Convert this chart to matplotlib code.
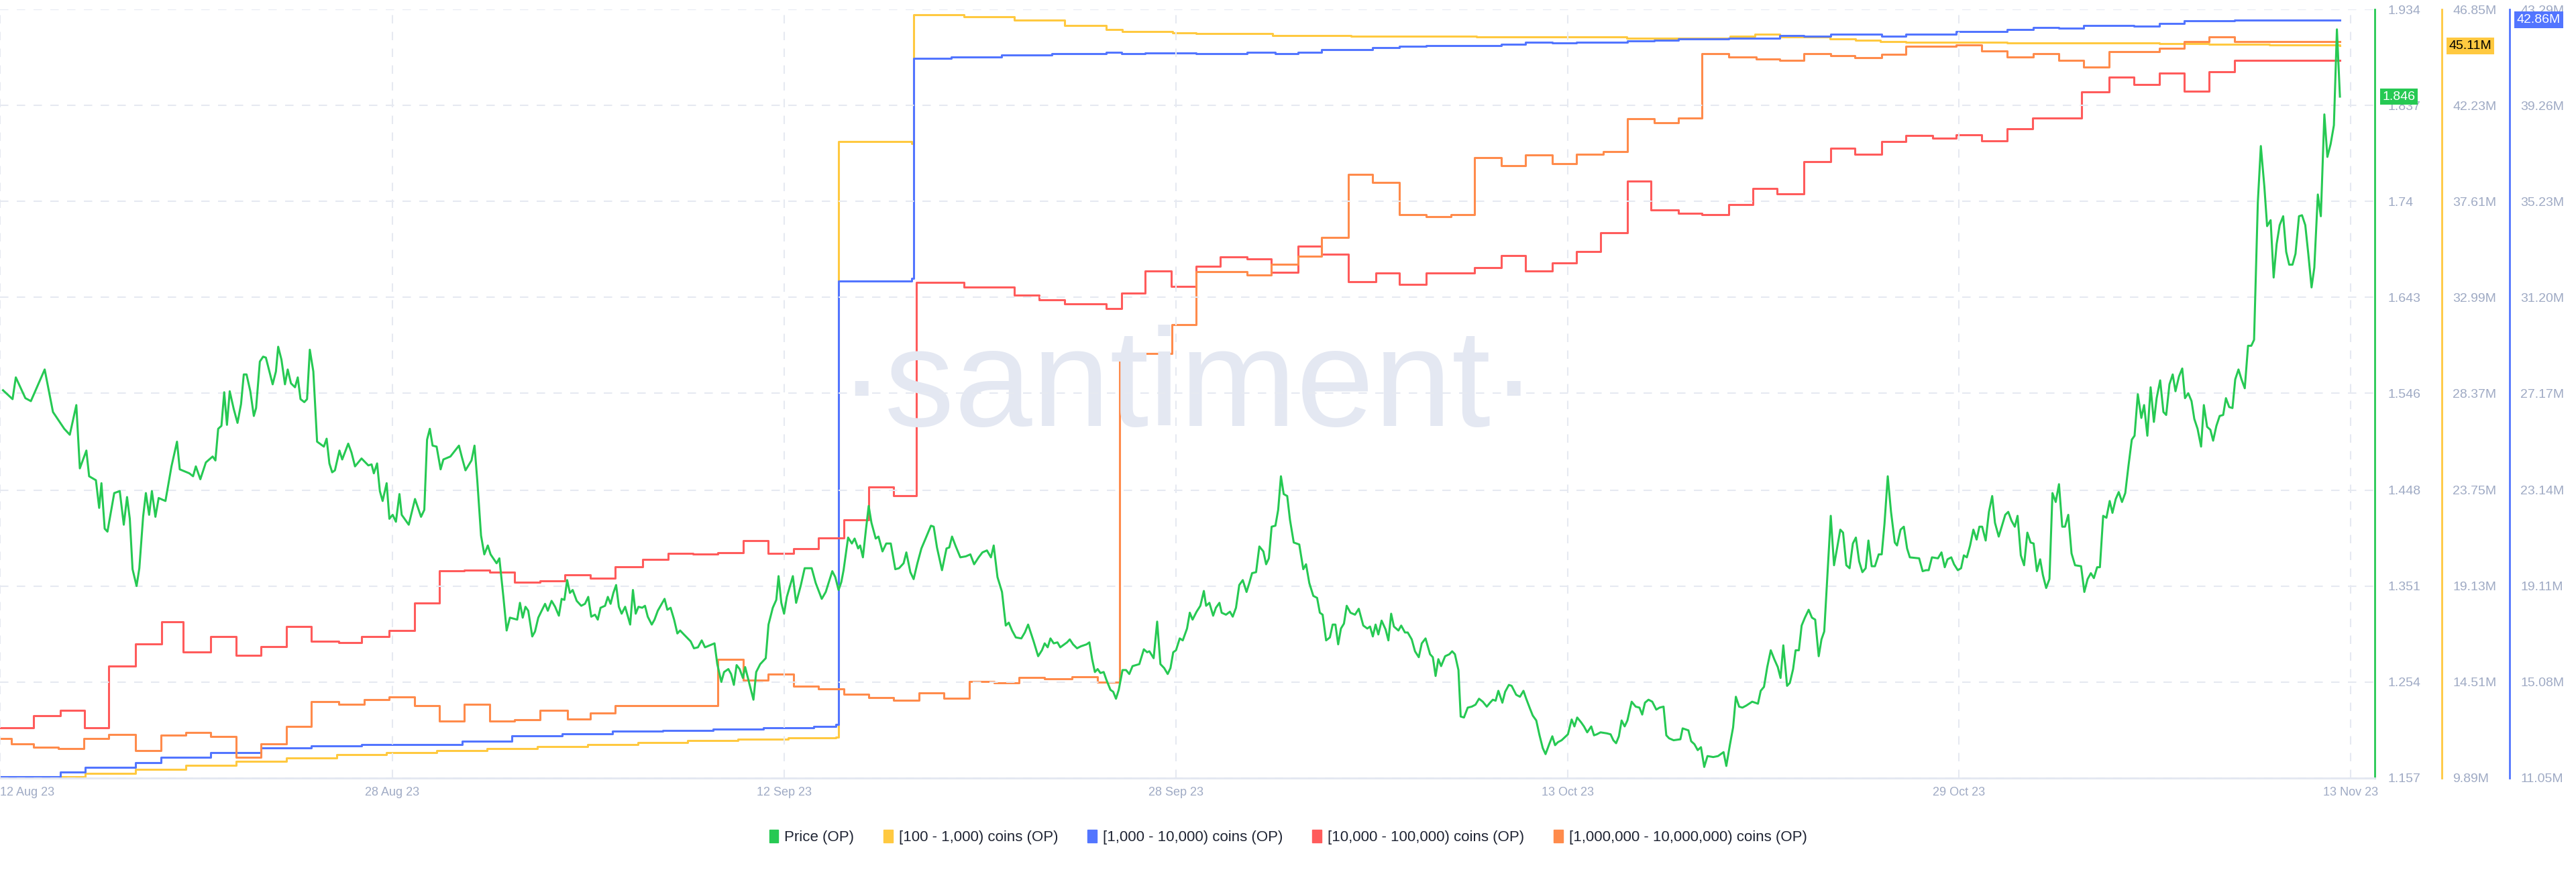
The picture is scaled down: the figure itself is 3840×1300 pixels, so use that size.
import matplotlib
matplotlib.use("Agg")
import matplotlib.pyplot as plt
import datetime as dt
from matplotlib.patches import Patch

plt.rcParams['font.family'] = ['Liberation Sans', 'DejaVu Sans']

START = dt.datetime(2023, 8, 12)
def D(days):
    return [START + dt.timedelta(days=float(d)) for d in days]

# Price (OP): (days since 12 Aug 23, value)
price_pts = [
(-1.28,1.549),(-0.90,1.540),(-0.77,1.562),(-0.39,1.541),(-0.17,1.538),(0.38,1.570),(0.71,1.527),(1.16,1.510),(1.38,1.504),(1.64,1.534),
(1.78,1.470),(2.04,1.488),(2.15,1.462),(2.42,1.458),(2.55,1.430),(2.64,1.455),(2.77,1.409),(2.88,1.406),(3.15,1.445),(3.37,1.447),
(3.53,1.413),(3.66,1.441),(3.77,1.419),(3.88,1.368),(4.04,1.351),(4.15,1.369),(4.30,1.421),(4.41,1.445),(4.54,1.423),(4.65,1.447),
(4.79,1.421),(4.92,1.440),(5.19,1.437),(5.43,1.472),(5.65,1.497),(5.76,1.469),(6.14,1.465),(6.29,1.462),(6.40,1.472),(6.58,1.459),
(6.80,1.476),(7.07,1.482),(7.18,1.478),(7.29,1.510),(7.42,1.513),(7.53,1.547),(7.64,1.514),(7.75,1.548),(7.91,1.530),(8.06,1.516),
(8.20,1.535),(8.31,1.565),(8.42,1.565),(8.57,1.548),(8.71,1.523),(8.80,1.531),(8.95,1.578),(9.08,1.583),(9.19,1.582),(9.35,1.566),
(9.46,1.555),(9.59,1.568),(9.68,1.593),(9.81,1.580),(9.95,1.555),(10.06,1.570),(10.19,1.556),(10.35,1.552),(10.46,1.562),(10.57,1.540),
(10.72,1.537),(10.83,1.540),(10.94,1.590),(11.08,1.568),(11.23,1.497),(11.50,1.492),(11.61,1.500),(11.72,1.475),(11.83,1.466),(11.94,1.468),
(12.12,1.488),(12.23,1.479),(12.47,1.495),(12.60,1.486),(12.74,1.472),(13.00,1.480),(13.27,1.473),(13.40,1.474),(13.49,1.465),(13.62,1.475),
(13.73,1.447),(13.84,1.437),(14.00,1.455),(14.11,1.419),(14.24,1.423),(14.37,1.416),(14.51,1.444),(14.60,1.423),(14.88,1.413),(15.13,1.439),
(15.37,1.421),(15.50,1.428),(15.61,1.499),(15.72,1.510),(15.83,1.493),(15.99,1.492),(16.15,1.469),(16.26,1.479),(16.54,1.482),(16.88,1.493),
(16.99,1.482),(17.14,1.468),(17.38,1.478),(17.50,1.493),(17.61,1.458),(17.76,1.402),(17.89,1.383),(18.03,1.392),(18.14,1.383),(18.38,1.374),
(18.49,1.379),(18.65,1.340),(18.78,1.306),(18.91,1.319),(19.20,1.317),(19.31,1.334),(19.42,1.319),(19.53,1.330),(19.64,1.326),(19.80,1.300),
(19.91,1.305),(20.04,1.319),(20.31,1.333),(20.42,1.326),(20.57,1.336),(20.71,1.330),(20.86,1.321),(20.97,1.338),(21.08,1.337),(21.19,1.357),
(21.30,1.344),(21.41,1.347),(21.57,1.336),(21.75,1.331),(21.90,1.333),(22.03,1.340),(22.15,1.320),(22.30,1.322),(22.41,1.317),(22.52,1.329),
(22.70,1.331),(22.81,1.340),(22.92,1.333),(23.03,1.344),(23.14,1.352),(23.25,1.330),(23.36,1.323),(23.50,1.330),(23.70,1.312),(23.81,1.347),
(23.92,1.323),(24.03,1.330),(24.18,1.329),(24.29,1.331),(24.40,1.320),(24.56,1.312),(24.67,1.317),(24.80,1.326),(25.07,1.338),(25.18,1.327),
(25.31,1.329),(25.45,1.317),(25.58,1.303),(25.69,1.306),(25.84,1.302),(26.11,1.295),(26.24,1.288),(26.40,1.289),(26.55,1.296),(26.68,1.289),
(27.06,1.293),(27.17,1.272),(27.33,1.254),(27.44,1.264),(27.61,1.267),(27.72,1.262),(27.83,1.251),(27.94,1.271),(28.06,1.267),(28.19,1.258),
(28.28,1.269),(28.43,1.254),(28.61,1.236),(28.72,1.264),(28.88,1.272),(29.10,1.278),(29.21,1.312),(29.38,1.329),(29.52,1.337),(29.61,1.361),
(29.72,1.334),(29.83,1.323),(29.94,1.340),(30.18,1.361),(30.31,1.334),(30.49,1.351),(30.65,1.369),(30.93,1.369),(31.09,1.354),(31.33,1.338),
(31.49,1.345),(31.75,1.366),(31.87,1.360),(32.00,1.347),(32.11,1.355),(32.20,1.367),(32.38,1.400),(32.53,1.394),(32.64,1.399),(32.78,1.389),
(32.86,1.392),(32.97,1.380),(33.09,1.408),(33.20,1.432),(33.31,1.415),(33.48,1.399),(33.59,1.401),(33.75,1.386),(33.90,1.394),(34.08,1.394),
(34.26,1.368),(34.41,1.369),(34.59,1.374),(34.70,1.385),(34.86,1.365),(34.99,1.358),(35.14,1.374),(35.30,1.389),(35.45,1.398),(35.68,1.412),
(35.79,1.411),(35.92,1.390),(36.12,1.367),(36.30,1.389),(36.41,1.390),(36.52,1.401),(36.67,1.391),(36.85,1.380),(37.07,1.381),(37.25,1.383),
(37.40,1.373),(37.58,1.380),(37.73,1.385),(37.91,1.387),(38.07,1.380),(38.18,1.392),(38.33,1.360),(38.51,1.345),(38.66,1.311),(38.78,1.314),
(38.91,1.306),(39.06,1.299),(39.28,1.298),(39.42,1.304),(39.55,1.312),(39.68,1.302),(39.77,1.295),(39.95,1.280),(40.10,1.286),(40.21,1.293),
(40.33,1.289),(40.44,1.298),(40.57,1.293),(40.72,1.294),(40.83,1.289),(41.10,1.294),(41.21,1.297),(41.34,1.292),(41.50,1.288),(41.65,1.290),
(41.88,1.292),(41.99,1.294),(42.10,1.277),(42.21,1.264),(42.32,1.267),(42.43,1.263),(42.56,1.264),(42.67,1.256),(42.83,1.246),(42.94,1.244),
(43.05,1.237),(43.16,1.246),(43.31,1.266),(43.45,1.266),(43.58,1.262),(43.71,1.270),(43.98,1.272),(44.16,1.287),(44.29,1.284),(44.38,1.285),
(44.55,1.278),(44.69,1.315),(44.82,1.272),(44.97,1.268),(45.11,1.262),(45.22,1.268),(45.33,1.284),(45.44,1.286),(45.59,1.298),(45.71,1.296),
(45.88,1.308),(45.99,1.324),(46.10,1.317),(46.26,1.325),(46.41,1.331),(46.55,1.346),(46.64,1.331),(46.77,1.334),(46.92,1.321),(47.03,1.329),
(47.17,1.334),(47.26,1.324),(47.43,1.322),(47.59,1.325),(47.70,1.320),(47.83,1.329),(47.96,1.352),(48.10,1.357),(48.25,1.345),(48.36,1.354),
(48.47,1.364),(48.63,1.365),(48.76,1.391),(48.92,1.386),(49.03,1.373),(49.14,1.379),(49.25,1.411),(49.40,1.412),(49.51,1.428),(49.62,1.462),
(49.73,1.444),(49.87,1.442),(49.98,1.418),(50.13,1.395),(50.35,1.393),(50.51,1.368),(50.62,1.373),(50.75,1.354),(50.91,1.341),(51.06,1.339),
(51.17,1.324),(51.28,1.322),(51.42,1.296),(51.57,1.299),(51.68,1.312),(51.79,1.312),(51.90,1.292),(52.01,1.308),(52.13,1.313),(52.24,1.331),
(52.39,1.324),(52.57,1.322),(52.72,1.328),(52.90,1.311),(53.06,1.308),(53.17,1.310),(53.28,1.300),(53.39,1.312),(53.50,1.302),(53.63,1.316),
(53.79,1.307),(53.90,1.296),(54.01,1.323),(54.12,1.310),(54.30,1.306),(54.41,1.311),(54.56,1.304),(54.67,1.304),(54.83,1.297),(54.96,1.285),
(55.11,1.279),(55.23,1.293),(55.38,1.298),(55.56,1.282),(55.67,1.279),(55.78,1.260),(55.89,1.277),(56.00,1.270),(56.16,1.280),(56.33,1.282),
(56.44,1.285),(56.55,1.282),(56.69,1.266),(56.78,1.219),(56.91,1.218),(57.06,1.228),(57.22,1.229),(57.37,1.231),(57.51,1.237),(57.66,1.234),
(57.82,1.229),(57.95,1.233),(58.06,1.236),(58.17,1.235),(58.28,1.245),(58.44,1.233),(58.55,1.244),(58.70,1.251),(58.81,1.250),(58.99,1.241),
(59.14,1.239),(59.28,1.245),(59.39,1.237),(59.54,1.227),(59.65,1.220),(59.79,1.215),(59.92,1.200),(60.05,1.187),(60.16,1.181),(60.32,1.192),
(60.43,1.199),(60.54,1.190),(60.65,1.193),(60.80,1.195),(61.05,1.201),(61.20,1.216),(61.31,1.209),(61.42,1.218),(61.58,1.213),(61.69,1.209),
(61.82,1.203),(61.98,1.209),(62.09,1.200),(62.20,1.201),(62.35,1.203),(62.60,1.202),(62.75,1.201),(62.86,1.195),(62.97,1.192),(63.08,1.199),
(63.19,1.215),(63.31,1.209),(63.42,1.215),(63.59,1.234),(63.75,1.229),(63.90,1.228),(64.01,1.221),(64.12,1.233),(64.26,1.236),(64.41,1.234),
(64.57,1.226),(64.70,1.228),(64.86,1.229),(64.97,1.200),(65.08,1.197),(65.26,1.195),(65.53,1.196),(65.62,1.207),(65.85,1.205),(65.96,1.194),
(66.09,1.191),(66.22,1.185),(66.35,1.188),(66.48,1.168),(66.61,1.179),(66.84,1.178),(67.03,1.179),(67.25,1.183),(67.36,1.169),(67.50,1.190),
(67.63,1.208),(67.74,1.239),(67.87,1.229),(68.00,1.228),(68.15,1.230),(68.39,1.234),(68.62,1.232),(68.73,1.245),(68.86,1.249),(68.99,1.269),
(69.13,1.286),(69.27,1.277),(69.41,1.269),(69.52,1.258),(69.63,1.291),(69.78,1.250),(69.89,1.253),(70.02,1.267),(70.12,1.286),(70.25,1.286),
(70.36,1.311),(70.49,1.319),(70.64,1.327),(70.77,1.319),(70.90,1.317),(71.04,1.280),(71.15,1.297),(71.26,1.305),(71.37,1.355),(71.52,1.422),
(71.65,1.372),(71.77,1.389),(71.90,1.408),(72.01,1.405),(72.14,1.372),(72.27,1.369),(72.40,1.394),(72.52,1.400),(72.65,1.376),(72.78,1.365),
(72.91,1.369),(73.02,1.397),(73.15,1.371),(73.28,1.371),(73.43,1.383),(73.55,1.383),(73.66,1.414),(73.79,1.462),(73.92,1.426),(74.07,1.395),
(74.16,1.392),(74.30,1.408),(74.43,1.411),(74.56,1.389),(74.67,1.380),(75.04,1.379),(75.18,1.366),(75.31,1.367),(75.42,1.367),(75.55,1.380),
(75.79,1.379),(75.93,1.385),(76.06,1.370),(76.17,1.378),(76.32,1.380),(76.43,1.373),(76.58,1.367),(76.71,1.369),(76.82,1.382),(76.94,1.380),
(77.07,1.392),(77.20,1.408),(77.33,1.398),(77.44,1.411),(77.55,1.411),(77.69,1.397),(77.82,1.426),(77.95,1.442),(78.06,1.415),(78.21,1.401),
(78.34,1.412),(78.47,1.423),(78.59,1.426),(78.72,1.417),(78.85,1.411),(78.96,1.422),(79.09,1.382),(79.22,1.372),(79.35,1.405),(79.48,1.395),
(79.60,1.394),(79.73,1.366),(79.86,1.378),(79.97,1.362),(80.10,1.349),(80.23,1.358),(80.35,1.445),(80.48,1.436),(80.61,1.454),(80.74,1.411),
(80.85,1.411),(80.98,1.423),(81.11,1.384),(81.25,1.372),(81.49,1.371),(81.62,1.345),(81.75,1.358),(81.88,1.364),(82.00,1.359),(82.13,1.370),
(82.24,1.370),(82.37,1.422),(82.50,1.420),(82.63,1.437),(82.74,1.425),(82.87,1.439),(82.99,1.446),(83.12,1.436),(83.25,1.445),(83.38,1.473),
(83.51,1.499),(83.62,1.503),(83.75,1.545),(83.89,1.521),(84.00,1.534),(84.13,1.503),(84.26,1.552),(84.39,1.517),(84.50,1.541),(84.64,1.559),
(84.77,1.527),(84.88,1.524),(85.01,1.555),(85.14,1.565),(85.25,1.548),(85.39,1.563),(85.52,1.571),(85.63,1.541),(85.76,1.546),(85.89,1.538),
(86.00,1.520),(86.13,1.510),(86.27,1.492),(86.38,1.534),(86.51,1.512),(86.64,1.509),(86.75,1.498),(86.88,1.513),(87.01,1.523),(87.15,1.524),
(87.26,1.541),(87.39,1.532),(87.52,1.531),(87.63,1.560),(87.76,1.570),(87.88,1.560),(88.01,1.551),(88.14,1.594),(88.27,1.594),(88.38,1.600),
(88.53,1.739),(88.65,1.796),(88.79,1.755),(88.90,1.715),(89.04,1.721),(89.16,1.663),(89.28,1.697),(89.40,1.716),(89.54,1.725),(89.66,1.689),
(89.78,1.676),(89.91,1.676),(90.03,1.687),(90.17,1.725),(90.29,1.726),(90.42,1.716),(90.54,1.687),(90.67,1.653),(90.78,1.673),(90.92,1.747),
(91.04,1.725),(91.18,1.828),(91.30,1.785),(91.43,1.798),(91.56,1.817),(91.68,1.914),(91.80,1.846)]
price_days = [p[0] for p in price_pts]
price_vals = [p[1] for p in price_pts]

# [100 - 1,000) coins (OP) -- millions, yellow axis
yel_days = [-1.4,2,4,6,8,10,12,14,16,18,20,22,24,26,28,30,31.9,32.0,34.9,35.0,37,39,41,42.67,43.3,45.3,46.25,49.3,52.4,57.4,63.4,67.5,68.5,69.5,71.5,72.5,73.5,74.5,78.55,80.6,83.5,84.6,86.6,89,91.8]
yel_vals = [9.95,10.1,10.3,10.5,10.7,10.85,11.0,11.1,11.2,11.3,11.4,11.5,11.6,11.7,11.75,11.8,11.85,40.5,40.4,46.6,46.5,46.35,46.1,45.88,45.80,45.73,45.69,45.61,45.56,45.53,45.47,45.58,45.67,45.53,45.45,45.39,45.31,45.28,45.26,45.25,45.24,45.22,45.18,45.14,45.11]

# [1,000 - 10,000) coins (OP) -- millions, blue axis
blu_days = [-1.4,1,2,4,5,7,9,11,13,15,17,19,21,23,25,27,29,31,31.9,32.0,34.9,35.0,36.5,38.5,40.5,42.67,43.27,44.22,46.25,48.27,49.4,50.3,51.25,53.28,54.35,55.4,57.33,58.4,59.36,60.43,61.38,63.41,64.48,65.44,67.46,69.49,70.44,71.52,72.47,73.54,74.5,76.52,78.55,79.6,80.6,81.6,83.6,84.6,85.6,87.6,91.8]
blu_vals = [11.1,11.3,11.5,11.7,11.9,12.1,12.3,12.4,12.45,12.45,12.6,12.8,12.9,13.0,13.05,13.1,13.15,13.2,13.3,31.9,32.0,41.25,41.3,41.38,41.45,41.50,41.43,41.47,41.43,41.49,41.43,41.50,41.60,41.69,41.74,41.79,41.77,41.83,41.92,41.89,41.93,41.97,42.01,42.07,42.10,42.21,42.18,42.25,42.27,42.18,42.25,42.36,42.44,42.53,42.51,42.61,42.59,42.70,42.81,42.86,42.86]

# [10,000 - 100,000) coins (OP) -- millions (hidden axis)
red_days = [-1.4,-0.06,1.0,1.96,2.93,4.0,5.03,5.9,7.0,8.0,9.0,10.0,11.0,12.1,13.0,14.1,15.1,16.1,17.1,18.1,19.1,20.1,21.1,22.1,23.1,24.2,25.2,26.2,27.2,28.2,29.2,30.2,31.2,32.2,33.2,34.2,35.1,37,39,40,41,42.67,43.27,44.22,45.24,46.25,47.2,48.27,49.23,50.3,51.25,52.3,53.4,54.35,55.4,57.33,58.4,59.36,60.43,61.38,62.34,63.41,64.36,65.44,66.39,67.46,68.42,69.37,70.44,71.52,72.47,73.54,74.5,75.57,76.52,77.52,78.55,79.57,81.5,82.6,83.6,84.6,85.6,86.6,87.6,91.8]
red_vals = [7.409,7.436,7.449,7.409,7.554,7.606,7.659,7.588,7.624,7.579,7.600,7.648,7.612,7.610,7.624,7.638,7.703,7.779,7.781,7.776,7.752,7.756,7.769,7.762,7.789,7.806,7.820,7.818,7.822,7.850,7.821,7.832,7.856,7.899,7.977,7.957,8.461,8.45,8.43,8.42,8.41,8.398,8.435,8.487,8.451,8.498,8.520,8.516,8.485,8.546,8.527,8.462,8.483,8.455,8.483,8.496,8.524,8.487,8.507,8.533,8.577,8.699,8.632,8.624,8.621,8.645,8.683,8.669,8.746,8.777,8.763,8.793,8.807,8.801,8.809,8.795,8.823,8.849,8.910,8.945,8.928,8.955,8.912,8.958,8.985,8.985]

# [1,000,000 - 10,000,000) coins (OP) -- millions (hidden axis)
org_days = [-1.4,-0.95,-0.06,0.93,1.93,2.93,4.0,5.0,6.0,7.0,8.0,9.0,10.0,11.0,12.1,13.1,14.1,15.1,16.1,17.1,18.1,19.1,20.1,21.2,22.1,23.1,27.2,28.2,29.2,30.2,31.2,32.2,33.2,34.2,35.2,36.2,37.2,38.2,39.2,40.2,41.3,42.3,43.2,45.29,46.25,48.27,49.23,50.3,51.25,52.3,53.28,54.35,55.4,56.4,57.33,58.4,59.36,60.43,61.38,62.46,63.41,64.48,65.44,66.39,67.46,68.54,69.49,70.44,71.52,72.47,73.54,74.5,76.52,77.52,78.55,79.6,80.6,81.6,82.6,84.6,85.6,86.6,87.6,91.8]
org_vals = [0.615,0.60,0.59,0.585,0.615,0.627,0.58,0.625,0.633,0.621,0.56,0.60,0.651,0.723,0.715,0.729,0.737,0.712,0.666,0.715,0.666,0.670,0.698,0.673,0.689,0.712,0.847,0.787,0.804,0.768,0.760,0.744,0.734,0.727,0.749,0.733,0.783,0.778,0.793,0.790,0.795,0.780,1.743,1.827,1.982,1.973,2.005,2.027,2.082,2.268,2.244,2.149,2.144,2.150,2.316,2.293,2.324,2.298,2.326,2.334,2.430,2.419,2.432,2.621,2.612,2.606,2.602,2.620,2.615,2.610,2.618,2.643,2.646,2.629,2.612,2.620,2.602,2.581,2.626,2.636,2.657,2.671,2.657,2.657]

date_ticks = [-1.39,14.23,29.83,45.45,61.04,76.63,92.23]
date_labels = ['12 Aug 23','28 Aug 23','12 Sep 23','28 Sep 23','13 Oct 23','29 Oct 23','13 Nov 23']
price_ticks = [1.157,1.254,1.351,1.448,1.546,1.643,1.74,1.837,1.934]
yel_ticks = [9.89,14.51,19.13,23.75,28.37,32.99,37.61,42.23,46.85]
blu_ticks = [11.05,15.08,19.11,23.14,27.17,31.2,35.23,39.26,43.29]

GREEN, YEL, BLUE, RED, ORG = '#26c953', '#ffc940', '#5275ff', '#ff5b5b', '#ff8b4b'
TICKC = '#9faac4'

def pair(d, v):
    n = min(len(d), len(v))
    return D(d[:n]), v[:n]

fig = plt.figure(figsize=(38.4, 13), dpi=100)
ax = fig.add_axes([0.0, 0.108, 0.922, 0.881])
ax_y = ax.twinx(); ax_b = ax.twinx(); ax_r = ax.twinx(); ax_o = ax.twinx()

xmin = START + dt.timedelta(days=-1.4)
xmax = START + dt.timedelta(days=93.2)

ax_o.plot(*pair(org_days, org_vals), color=ORG, lw=2.2, drawstyle='steps-post')
ax_o.set_ylim(0.5, 2.75)
ax_r.plot(*pair(red_days, red_vals), color=RED, lw=2.2, drawstyle='steps-post')
ax_r.set_ylim(7.29, 9.105)
ax_b.plot(*pair(blu_days, blu_vals), color=BLUE, lw=2.2, drawstyle='steps-post')
ax_b.set_ylim(11.05, 43.29)
ax_y.plot(*pair(yel_days, yel_vals), color=YEL, lw=2.2, drawstyle='steps-post')
ax_y.set_ylim(9.89, 46.85)
ax.plot(D(price_days), price_vals, color=GREEN, lw=2.2, zorder=10)
ax.set_ylim(1.157, 1.934)
ax.set_zorder(5); ax.patch.set_visible(False)

for a in (ax, ax_y, ax_b, ax_r, ax_o):
    a.set_xlim(xmin, xmax)
    for s in a.spines.values():
        s.set_visible(False)

for a in (ax_r, ax_o):
    a.set_yticks([])

ax.yaxis.tick_right()
ax.spines['right'].set_visible(True); ax.spines['right'].set_color(GREEN); ax.spines['right'].set_linewidth(2)
ax.spines['bottom'].set_visible(True); ax.spines['bottom'].set_color('#e3e7f1'); ax.spines['bottom'].set_linewidth(2)
ax.set_yticks(price_ticks)
ax.set_yticklabels([f'{t:g}' for t in price_ticks])
ax.tick_params(axis='y', length=0, pad=14, labelsize=14, labelcolor=TICKC)

ax_y.spines['right'].set_visible(True); ax_y.spines['right'].set_position(('axes', 1.028))
ax_y.spines['right'].set_color(YEL); ax_y.spines['right'].set_linewidth(2)
ax_y.set_yticks(yel_ticks); ax_y.set_yticklabels([f'{t:.2f}M' for t in yel_ticks])
ax_y.tick_params(axis='y', length=0, pad=12, labelsize=14, labelcolor=TICKC)

ax_b.spines['right'].set_visible(True); ax_b.spines['right'].set_position(('axes', 1.0565))
ax_b.spines['right'].set_color(BLUE); ax_b.spines['right'].set_linewidth(2)
ax_b.set_yticks(blu_ticks); ax_b.set_yticklabels([f'{t:.2f}M' for t in blu_ticks])
ax_b.tick_params(axis='y', length=0, pad=12, labelsize=14, labelcolor=TICKC)

ax.set_xticks(D(date_ticks))
ax.set_xticklabels(date_labels)
ax.tick_params(axis='x', length=0, pad=10, labelsize=13, labelcolor=TICKC, labelbottom=True)
ax.get_xticklabels()[0].set_horizontalalignment('left')
ax.grid(True, axis='both', color='#e6e9f1', linestyle=(0, (6, 6)), lw=1.5)

ax.text(0.5, 0.505, '·santiment·', transform=ax.transAxes, ha='center', va='center',
        fontsize=150, color='#e4e8f2', zorder=0)

ax.annotate(f'{price_vals[-1]:.3f}', xy=(1.0, price_vals[-1]), xycoords=('axes fraction', 'data'),
            xytext=(8, 0), textcoords='offset points', ha='left', va='center', fontsize=14, color='white',
            bbox=dict(boxstyle='square,pad=0.2', fc=GREEN, ec='none'), zorder=20)
ax_y.annotate(f'{yel_vals[-1]:.2f}M', xy=(1.028, yel_vals[-1]), xycoords=('axes fraction', 'data'),
              xytext=(8, 0), textcoords='offset points', ha='left', va='center', fontsize=14, color='black',
              bbox=dict(boxstyle='square,pad=0.2', fc=YEL, ec='none'), zorder=20)
ax_b.annotate(f'{blu_vals[-1]:.2f}M', xy=(1.0565, blu_vals[-1]), xycoords=('axes fraction', 'data'),
              xytext=(8, 0), textcoords='offset points', ha='left', va='center', fontsize=14, color='white',
              bbox=dict(boxstyle='square,pad=0.2', fc=BLUE, ec='none'), zorder=20)

labels = ['Price (OP)', '[100 - 1,000) coins (OP)', '[1,000 - 10,000) coins (OP)',
          '[10,000 - 100,000) coins (OP)', '[1,000,000 - 10,000,000) coins (OP)']
handles = [Patch(color=c) for c in (GREEN, YEL, BLUE, RED, ORG)]
fig.legend(handles, labels, loc='center', bbox_to_anchor=(0.5, 0.04), ncol=5, frameon=False,
           fontsize=16, handlelength=0.6, handleheight=0.9, handletextpad=0.4, columnspacing=2.0,
           labelcolor='#1f2433')

fig.savefig('out.png', dpi=100)
